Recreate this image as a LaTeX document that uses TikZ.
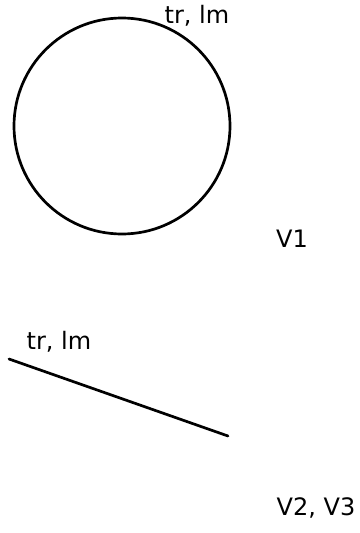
\documentclass[tikz,border=0pt]{standalone}
\usepackage{fontspec}
\setsansfont{DejaVu Sans}
\usepackage{tikz}
\usetikzlibrary{calc,positioning}
\tikzset{
	sketch/.style={line width=2.7pt,line cap=round},
	hand/.style={font=\sffamily\fontsize{24}{24}\selectfont,inner sep=0pt},
}
\begin{document}
\begin{tikzpicture}[x=1pt,y=-1pt]
				%\draw[color=gray,step=10pt, help lines,opacity=0.3] (0,0) grid (359,533); %help grids
				\useasboundingbox (0,0) rectangle (359,533);
				\node[circle,draw,sketch,minimum size=216pt,inner sep=0pt] (ring) at (122,126) {};
				\node[hand] (lblA) at (197,16) {tr, lm};
				\node[hand] (vone) at (292,239) {V1};
				\coordinate (segA) at (9,359);
				\coordinate (segB) at (228,436);
				\draw[sketch] (segA)--(segB);
				\node[hand] (lblB) at (59,342) {tr, lm};
				\node[hand] (vtwo) at (316,508) {V2, V3};
\end{tikzpicture}
\end{document}
